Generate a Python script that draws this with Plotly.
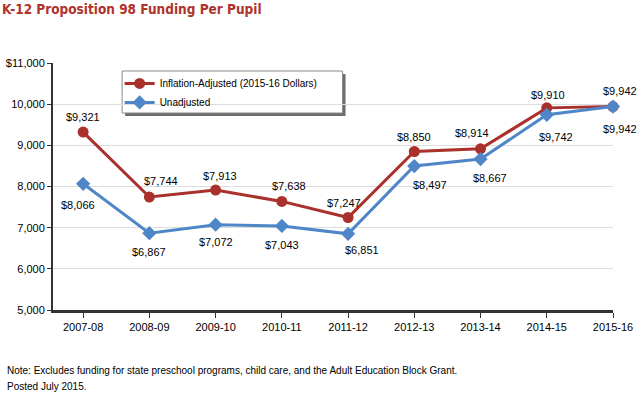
import plotly.graph_objects as go

years = ["2007-08", "2008-09", "2009-10", "2010-11", "2011-12", "2012-13", "2013-14", "2014-15", "2015-16"]
adjusted = [9321, 7744, 7913, 7638, 7247, 8850, 8914, 9910, 9942]
unadjusted = [8066, 6867, 7072, 7043, 6851, 8497, 8667, 9742, 9942]
y_ticks = [5000, 6000, 7000, 8000, 9000, 10000, 11000]
y_tick_labels = ["5,000", "6,000", "7,000", "8,000", "9,000", "10,000", "$11,000"]

# label offsets in pixels (style only)
adj_label_dx = [0, 12, 4, 7, -4, 0, -9, 1, 7]
adj_label_dy = [15, 16, 14, 15, 15, 15, 16, 13, 16]
unadj_label_dx = [-5, 0, 0, 0, 14, 16, 9, 9, 7]
unadj_label_dy = [-21, -19, -17, -19, -16, -19, -19, -22, -22]

RED = "#A9302B"
BLUE = "#4F86C7"
FONT = "Liberation Sans"

xs = list(range(len(years)))

fig = go.Figure()
fig.add_trace(go.Scatter(
    x=xs, y=adjusted, name="Inflation-Adjusted (2015-16 Dollars)",
    mode="lines+markers",
    line=dict(color=RED, width=3),
    marker=dict(color=RED, size=11, symbol="circle"),
    cliponaxis=False,
))
fig.add_trace(go.Scatter(
    x=xs, y=unadjusted, name="Unadjusted",
    mode="lines+markers",
    line=dict(color=BLUE, width=3),
    marker=dict(color=BLUE, size=11, symbol="diamond"),
    cliponaxis=False,
))

annotations = []
for i, v in enumerate(adjusted):
    annotations.append(dict(x=xs[i], y=v, text="$" + format(v, ","), showarrow=False,
                            xshift=adj_label_dx[i], yshift=adj_label_dy[i],
                            font=dict(size=11, color="black", family=FONT)))
for i, v in enumerate(unadjusted):
    annotations.append(dict(x=xs[i], y=v, text="$" + format(v, ","), showarrow=False,
                            xshift=unadj_label_dx[i], yshift=unadj_label_dy[i],
                            font=dict(size=11, color="black", family=FONT)))

annotations += [
    dict(text="Note: Excludes funding for state preschool programs, child care, and the Adult Education Block Grant.",
         xref="paper", yref="paper", x=-0.086, y=-0.215, xanchor="left", yanchor="top",
         showarrow=False, font=dict(size=10, family=FONT)),
    dict(text="Posted July 2015.",
         xref="paper", yref="paper", x=-0.086, y=-0.28, xanchor="left", yanchor="top",
         showarrow=False, font=dict(size=10, family=FONT)),
]

shapes = [
    # legend shadow
    dict(type="rect", xref="paper", yref="paper",
         x0=0.1288, x1=0.5224, y0=0.7854, y1=0.9555,
         fillcolor="#6E6E6E", line=dict(width=0), layer="between"),
    # legend box
    dict(type="rect", xref="paper", yref="paper",
         x0=0.1234, x1=0.517, y0=0.7976, y1=0.9676,
         fillcolor="white", line=dict(color="#8A8A8A", width=1), layer="between"),
]

fig.update_layout(
    width=640, height=394,
    margin=dict(l=53, r=27, t=63, b=84, autoexpand=False),
    paper_bgcolor="white", plot_bgcolor="white",
    font=dict(family=FONT, size=11, color="black"),
    title=dict(text="<b>K-12 Proposition 98 Funding Per Pupil</b>",
               x=0.003, xanchor="left", y=0.988, yanchor="top",
               font=dict(size=13.5, color="#B0322C", family="DejaVu Sans Condensed, " + FONT)),
    showlegend=True,
    legend=dict(x=0.119, y=0.976, xanchor="left", yanchor="top",
                bgcolor="rgba(0,0,0,0)", borderwidth=0,
                font=dict(size=10, family=FONT), tracegroupgap=0,
                itemwidth=30),
    xaxis=dict(
        tickmode="array", tickvals=xs, ticktext=years,
        range=[-0.455, 8.0], automargin=False,
        showgrid=False, zeroline=False,
        showline=True, linecolor="#333333", linewidth=2.5,
        ticks="outside", ticklen=5, tickcolor="#333333",
        tickfont=dict(size=11),
    ),
    yaxis=dict(
        range=[5000, 11000], automargin=False,
        tickmode="array", tickvals=y_ticks, ticktext=y_tick_labels,
        showgrid=True, gridcolor="#DDDDDD", gridwidth=1,
        zeroline=False,
        showline=True, linecolor="#333333", linewidth=2,
        ticks="outside", ticklen=4, tickcolor="#333333",
        tickfont=dict(size=11),
    ),
    annotations=annotations,
    shapes=shapes,
)

fig.write_html("out.html", config={"displayModeBar": False},
               post_script="document.body.style.margin='0';")
